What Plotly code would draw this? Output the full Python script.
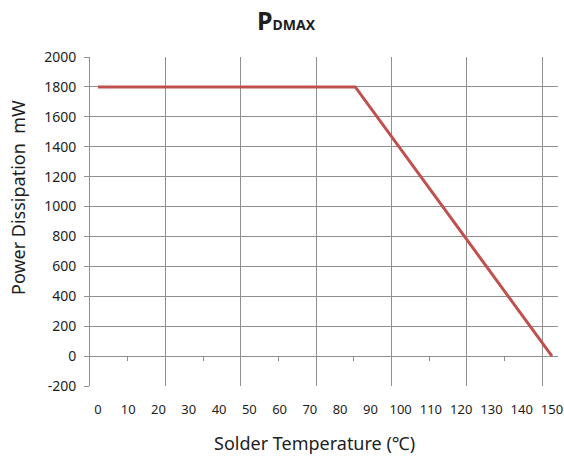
import plotly.graph_objects as go

# ---- data ----
temperature_c = [0, 85, 150]
power_mw = [1800, 1800, 0]
x_tick_labels = [0, 10, 20, 30, 40, 50, 60, 70, 80, 90, 100, 110, 120, 130, 140, 150]
y_ticks = [-200, 0, 200, 400, 600, 800, 1000, 1200, 1400, 1600, 1800, 2000]

W, H = 564, 463
L, R, T, B = 90, 6, 57, 77
pw, ph = W - L - R, H - T - B

def px(xp):
    return (xp - L) / pw

def py(yp):
    return (H - B - yp) / ph

XMIN, XMAX = -2.65, 152.0
GRID = 24.9
grid_col = "#8f8f8f"
font_fam = "Noto Sans"
txt_col = "#1e1e1e"

fig = go.Figure()
fig.add_trace(go.Scatter(x=temperature_c, y=power_mw, mode="lines",
                         line=dict(color="#C0504D", width=3),
                         showlegend=False, hoverinfo="skip", xaxis="x2"))
# helper invisible traces to realise overlay axes
fig.add_trace(go.Scatter(x=[XMIN], y=[-200], mode="markers", marker=dict(opacity=0),
                         showlegend=False, hoverinfo="skip", xaxis="x"))
fig.add_trace(go.Scatter(x=[XMIN], y=[-200], mode="markers", marker=dict(opacity=0),
                         showlegend=False, hoverinfo="skip", xaxis="x3"))

fig.update_layout(
    width=W, height=H,
    margin=dict(l=L, r=R, t=T, b=B, autoexpand=False),
    paper_bgcolor="white", plot_bgcolor="white",
    font=dict(family=font_fam, color=txt_col, size=13),
    xaxis=dict(range=[XMIN, XMAX], tickmode="array", tickvals=x_tick_labels,
               ticktext=[str(v) for v in x_tick_labels], showgrid=False,
               zeroline=False, showline=False, ticks="", ticklabelstandoff=14,
               automargin=False,
               tickfont=dict(size=13, family=font_fam, color=txt_col)),
    xaxis2=dict(range=[XMIN, XMAX], overlaying="x", side="bottom", anchor="y",
                tickmode="linear", tick0=XMIN, dtick=GRID, showgrid=True,
                gridcolor=grid_col, gridwidth=1, showticklabels=False, ticks="",
                zeroline=False, showline=False, automargin=False),
    xaxis3=dict(range=[XMIN, XMAX], overlaying="x", anchor="free",
                position=(0 - (-200)) / 2200,
                tickmode="linear", tick0=XMIN + GRID / 2, dtick=GRID,
                ticks="outside", ticklen=4, tickcolor=grid_col, tickwidth=1,
                showgrid=False, showticklabels=False, zeroline=False, showline=False,
                automargin=False),
    yaxis=dict(range=[-200, 2000], tickmode="array", tickvals=y_ticks,
               ticktext=[str(v) for v in y_ticks],
               showgrid=True, gridcolor=grid_col, gridwidth=1,
               zeroline=False, showline=True, linecolor=grid_col, linewidth=1,
               ticks="outside", ticklen=5, tickcolor=grid_col,
               ticklabelstandoff=5, automargin=False,
               tickfont=dict(size=14, family=font_fam, color=txt_col)),
)

fig.add_annotation(text="<b>P<span style='font-size:14px'>DMAX</span></b>",
                   xref="paper", yref="paper", x=px(286), y=py(20),
                   xanchor="center", yanchor="middle", showarrow=False,
                   font=dict(size=25, family=font_fam, color=txt_col))
fig.add_annotation(text="Power Dissipation  mW", textangle=-90,
                   xref="paper", yref="paper", x=px(18), y=py(198),
                   xanchor="center", yanchor="middle", showarrow=False,
                   font=dict(size=18, family=font_fam, color=txt_col))
fig.add_annotation(text="Solder Temperature (℃)",
                   xref="paper", yref="paper", x=px(314), y=py(443),
                   xanchor="center", yanchor="middle", showarrow=False,
                   font=dict(size=18, family=font_fam, color=txt_col))

fig.write_html("out.html", config={"displayModeBar": False},
               post_script="document.body.style.margin='0';document.body.style.padding='0';")
